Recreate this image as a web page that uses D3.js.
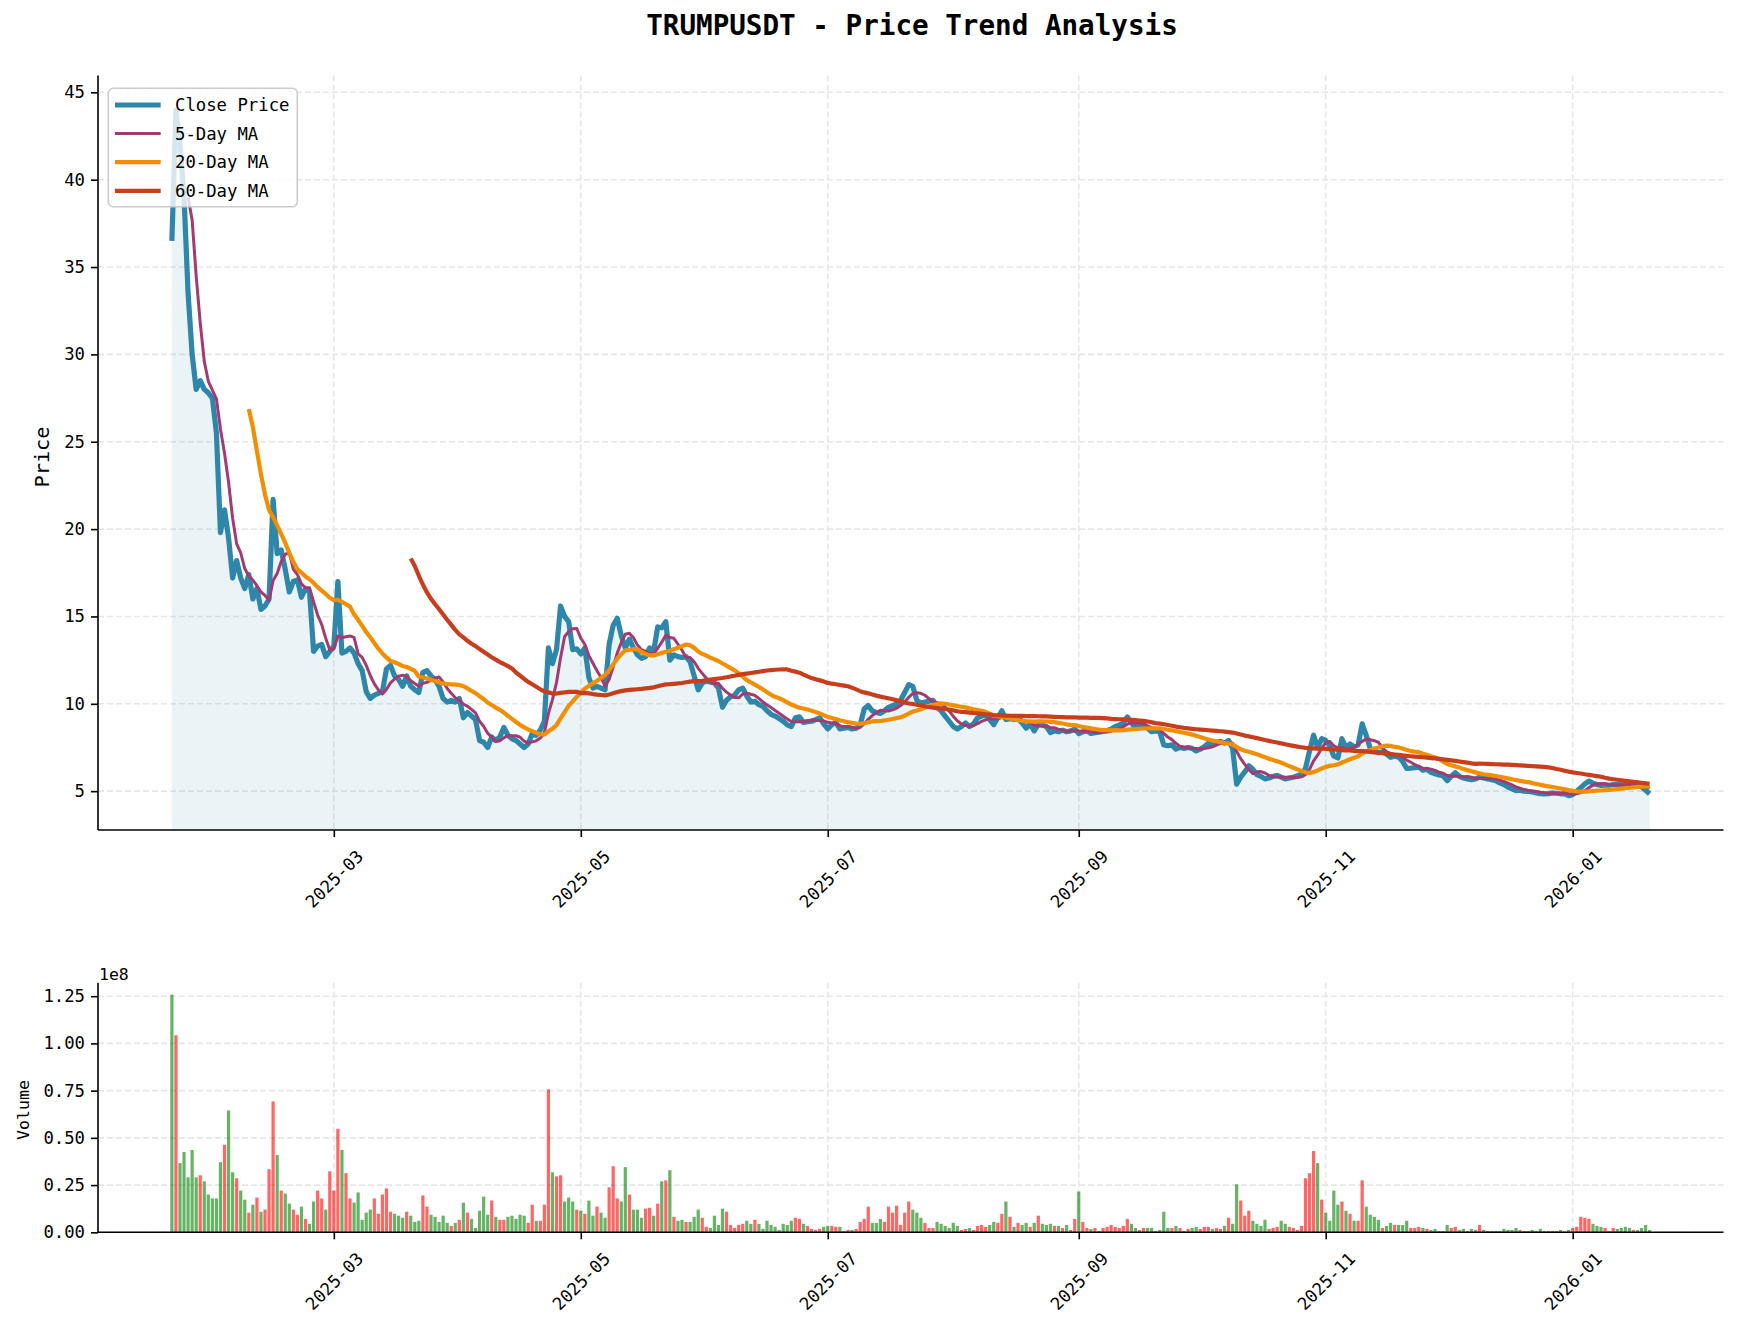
<!DOCTYPE html>
<html><head><meta charset="utf-8">
<script src="https://cdn.jsdelivr.net/npm/d3@7"></script>
<style>
body{margin:0;background:#fff}
svg{display:block}
text{font-family:"DejaVu Sans Mono",monospace;fill:#000}
</style>
</head><body>
<svg id="c" width="1740" height="1327"></svg>
<script>
// ---------------- data ----------------
const symbol = "TRUMPUSDT";
const startDate = "2025-01-20";
const closePrices = [
36.5,44.0,42.0,39.0,33.5,30.0,28.0,28.5,28.0,27.8,
27.5,25.5,19.8,21.1,19.5,17.2,18.2,17.2,16.6,17.4,
16.0,16.6,15.4,15.6,16.0,21.7,18.6,18.8,17.7,16.4,
17.0,17.1,16.1,16.6,16.4,13.0,13.3,13.4,12.7,13.0,
13.3,17.0,12.9,13.0,13.2,12.9,12.3,11.9,10.7,10.3,
10.5,10.6,10.7,12.0,12.2,11.6,11.4,11.0,11.6,11.0,
10.8,10.65,11.8,11.9,11.6,11.4,11.0,10.3,10.1,10.2,
10.1,10.3,9.2,9.5,9.3,9.1,7.9,7.8,7.5,8.1,
7.9,8.1,8.65,8.2,8.0,7.9,7.7,7.5,7.7,8.3,
8.2,8.5,9.0,13.2,12.3,13.1,15.6,15.0,14.7,13.1,
13.15,12.85,13.2,11.5,10.9,11.0,10.9,10.8,13.4,14.5,
14.9,13.9,13.2,13.7,13.2,12.8,12.6,12.7,13.2,13.0,
14.4,14.35,14.7,12.5,12.8,12.7,12.65,12.7,12.4,11.6,
10.8,11.2,11.3,11.25,11.2,10.9,9.8,10.2,10.4,10.5,
10.8,10.9,10.45,10.1,10.15,9.95,9.85,9.6,9.4,9.3,
9.15,9.0,8.8,8.7,9.2,9.25,8.94,8.98,9.0,9.1,
9.2,8.85,8.56,8.8,8.94,8.56,8.6,8.65,8.56,8.6,
8.8,9.7,9.9,9.6,9.5,9.45,9.6,9.8,9.9,10.0,
10.2,10.65,11.1,11.0,10.2,10.05,10.1,10.15,10.2,9.8,
9.6,9.3,9.0,8.7,8.56,8.7,8.9,8.7,8.85,9.2,
9.3,9.35,9.1,8.8,9.2,9.6,9.1,9.15,9.1,9.15,
8.9,8.6,8.85,8.45,8.85,8.8,8.7,8.35,8.45,8.4,
8.5,8.4,8.45,8.55,8.3,8.4,8.45,8.3,8.35,8.38,
8.42,8.47,8.55,8.7,8.78,8.9,9.25,8.9,8.65,8.74,
8.78,8.6,8.4,8.45,8.4,7.65,7.6,7.65,7.4,7.5,
7.45,7.5,7.45,7.3,7.4,7.55,7.75,7.7,7.8,7.85,
7.75,7.9,7.45,5.4,5.8,6.1,6.45,6.25,5.95,5.85,
5.7,5.75,5.85,5.9,5.8,5.7,5.75,5.8,5.88,5.98,
6.3,7.3,8.2,7.5,8.0,7.9,7.6,7.0,6.9,8.0,
7.5,7.7,7.55,7.65,8.85,8.2,7.45,7.3,7.2,7.25,
7.13,6.94,7.0,6.95,6.7,6.3,6.32,6.35,6.38,6.2,
6.25,6.08,6.0,5.93,5.88,5.6,5.85,6.05,5.85,5.75,
5.7,5.66,5.7,5.8,5.75,5.7,5.65,5.6,5.47,5.38,
5.23,5.13,5.03,5.06,5.0,4.98,4.95,4.9,4.86,4.84,
4.86,4.9,4.88,4.85,4.86,4.74,4.8,5.0,5.2,5.42,
5.58,5.45,5.38,5.33,5.36,5.34,5.38,5.37,5.36,5.35,
5.33,5.4,5.35,5.25,5.05,4.85
];
// daily volume, millions of units
const volumeMillions = [
125.8,104.3,36.6,42.5,29.1,43.6,29.1,30.2,27.0,20.0,
17.9,17.9,37.1,46.3,64.5,31.8,28.6,22.1,17.3,10.4,
14.6,18.4,10.9,12.0,33.4,69.3,40.9,22.1,20.5,15.2,
12.0,9.3,13.6,7.1,4.5,16.3,22.1,17.9,12.0,32.3,
22.1,54.8,43.6,31.3,17.9,15.7,21.1,6.6,10.4,12.0,
17.9,9.8,20.0,23.2,10.9,9.8,8.8,7.7,10.9,8.8,
5.5,6.1,19.5,13.6,9.3,8.2,5.5,8.8,5.0,3.4,
5.0,6.6,15.7,10.4,7.1,2.3,11.4,18.9,9.3,16.8,
8.2,6.6,6.6,8.2,8.8,7.1,9.3,8.8,5.0,14.6,
6.1,6.1,14.6,75.7,31.8,29.6,30.2,16.3,18.4,16.3,
12.0,11.4,9.8,16.8,8.8,13.6,10.4,7.7,23.8,35.0,
17.9,16.3,34.5,20.0,12.0,12.0,7.7,12.5,13.0,8.8,
15.2,27.0,27.5,32.9,8.2,6.1,6.6,5.5,5.5,8.2,
12.0,7.7,2.9,2.3,8.8,3.9,12.5,10.9,3.9,2.3,
3.9,4.5,6.1,4.5,6.6,4.5,1.8,6.1,3.9,2.9,
1.25,4.5,3.9,6.1,7.7,7.1,4.5,3.4,1.8,1.25,
1.8,2.9,3.4,3.4,2.9,2.9,0.7,1.25,1.25,1.8,
5.5,7.1,13.6,5.0,5.0,7.1,5.5,13.6,10.4,14.1,
3.9,10.4,16.3,12.0,10.4,7.7,5.0,2.3,2.3,5.5,
4.5,3.4,2.3,5.0,3.4,1.25,1.8,2.3,1.25,3.4,
3.9,2.9,3.9,5.5,5.0,9.8,16.3,8.2,2.9,5.0,
3.9,5.0,2.9,5.0,8.8,4.5,3.9,4.5,3.4,3.4,
2.3,3.9,1.25,7.1,21.6,5.5,2.3,1.8,2.3,0.7,
2.3,2.9,3.9,2.9,2.3,3.4,7.1,4.5,2.3,1.25,
2.3,2.3,2.3,0.7,1.25,10.9,2.3,2.3,3.4,2.3,
0.7,1.8,2.3,2.9,1.8,2.9,2.9,1.8,2.3,1.8,
3.4,7.7,4.5,25.4,16.8,8.8,11.4,6.1,4.5,3.4,
6.6,1.8,2.3,2.9,6.1,4.5,2.9,2.3,1.25,3.4,
28.6,31.3,43.0,36.6,17.3,10.4,6.1,22.1,14.6,16.3,
11.4,9.8,6.1,6.1,27.5,13.6,9.3,8.2,6.6,2.3,
3.4,5.0,3.9,3.9,3.9,6.1,2.3,2.3,2.9,2.3,
1.8,1.25,1.8,0.7,0.7,3.9,2.3,2.9,1.25,1.8,
0.7,1.8,1.25,3.9,1.25,0.7,0.7,0.7,0.7,1.8,
1.25,1.25,2.3,1.25,0.7,0.7,1.25,0.7,1.8,0.7,
0.7,0.7,0.7,1.25,0.4,1.25,2.3,2.9,8.2,7.7,
7.1,4.5,3.4,2.9,2.3,0.7,2.3,1.8,2.3,2.9,
2.3,1.25,1.25,2.3,3.9,1.25
];
const xTickLabels = ["2025-03","2025-05","2025-07","2025-09","2025-11","2026-01"];
const priceTicks = [5,10,15,20,25,30,35,40,45];
const volumeTicks = [0,0.25,0.5,0.75,1.0,1.25];   // in units of 1e8
const maWindows = [5,20,60];
const seriesNames = ["Close Price","5-Day MA","20-Day MA","60-Day MA"];
const seriesColors = ["#2E86AB","#A23B72","#F18F01","#C73E1D"];
const seriesWidths = [5.2,3.0,4.2,4.2];

// ---------------- layout ----------------
const svg = d3.select("#c");
const L = 98, R = 1723.5;
const pTop = 75.5, pBot = 830;
const vTop = 982.8, vBot = 1232.3;
const gridColor = "#e6e6e6";
const FS = 17.3;

const parse = d3.utcParse("%Y-%m-%d");
const t0 = parse(startDate);
const dates = closePrices.map((_, i) => d3.utcDay.offset(t0, i));
const span = dates[dates.length - 1] - dates[0];
const x = d3.scaleUtc()
  .domain([new Date(+dates[0] - 0.05 * span), new Date(+dates[dates.length - 1] + 0.05 * span)])
  .range([L, R]);

function rolling(arr, n) {
  return arr.map((_, i) => i < n - 1 ? null : d3.mean(arr.slice(i - n + 1, i + 1)));
}
const mas = maWindows.map(n => rolling(closePrices, n));
const allP = closePrices.concat(...mas).filter(v => v != null);
const pmin = d3.min(allP), pmax = d3.max(allP), pr = pmax - pmin;
const y = d3.scaleLinear().domain([pmin - 0.05 * pr, pmax + 0.05 * pr]).range([pBot, pTop]);

const vols = volumeMillions.map(v => v / 100); // 1e8 units
const yv = d3.scaleLinear().domain([0, d3.max(vols) * 1.05]).range([vBot, vTop]);

const xTickDates = xTickLabels.map(s => d3.utcParse("%Y-%m")(s));

// clip paths
const defs = svg.append("defs");
defs.append("clipPath").attr("id", "clipP").append("rect")
  .attr("x", L).attr("y", pTop).attr("width", R - L).attr("height", pBot - pTop);
defs.append("clipPath").attr("id", "clipV").append("rect")
  .attr("x", L).attr("y", vTop).attr("width", R - L).attr("height", vBot - vTop);

// ---------------- grids ----------------
function grid(g, top, bot, yTicks, ys) {
  g.selectAll("line.vx").data(xTickDates).join("line")
    .attr("x1", d => x(d)).attr("x2", d => x(d)).attr("y1", top).attr("y2", bot)
    .attr("stroke", gridColor).attr("stroke-width", 1.6).attr("stroke-dasharray", "6,3");
  g.selectAll("line.hy").data(yTicks).join("line").attr("class","hy")
    .attr("x1", L).attr("x2", R).attr("y1", d => ys(d)).attr("y2", d => ys(d))
    .attr("stroke", gridColor).attr("stroke-width", 1.6).attr("stroke-dasharray", "6,3");
}
grid(svg.append("g"), pTop, pBot, priceTicks, y);
grid(svg.append("g"), vTop, vBot, volumeTicks, yv);

// ---------------- price panel ----------------
const gp = svg.append("g").attr("clip-path", "url(#clipP)");
gp.append("path").datum(closePrices)
  .attr("d", d3.area().x((d, i) => x(dates[i])).y0(pBot).y1(d => y(d)))
  .attr("fill", seriesColors[0]).attr("fill-opacity", 0.1);
const lineGen = d3.line().defined(d => d != null).x((d, i) => x(dates[i])).y(d => y(d));
[closePrices, ...mas].forEach((s, k) => {
  gp.append("path").datum(s).attr("d", lineGen)
    .attr("fill", "none").attr("stroke", seriesColors[k])
    .attr("stroke-width", seriesWidths[k]).attr("stroke-linejoin", "round").attr("stroke-linecap", "butt");
});

// ---------------- volume panel ----------------
const gv = svg.append("g").attr("clip-path", "url(#clipV)");
const bw = x(d3.utcHour.offset(dates[0], 0.8 * 24)) - x(dates[0]);
gv.selectAll("rect").data(vols).join("rect")
  .attr("x", (d, i) => x(dates[i]) - bw / 2)
  .attr("width", bw)
  .attr("y", d => yv(d))
  .attr("height", d => vBot - yv(d))
  .attr("fill", (d, i) => (i > 0 && closePrices[i] > closePrices[i - 1]) ? "red" : "green")
  .attr("fill-opacity", 0.6);

// ---------------- axes ----------------
function styleAxis(g) {
  g.select(".domain").remove();
  g.selectAll(".tick line").attr("stroke", "#000").attr("stroke-width", 1.6);
  g.selectAll(".tick text").attr("font-family", "DejaVu Sans Mono").attr("font-size", FS).attr("fill", "#000");
}
const fmtX = d3.utcFormat("%Y-%m");
function xAxis(yPos) {
  const g = svg.append("g").attr("transform", `translate(0,${yPos})`)
    .call(d3.axisBottom(x).tickValues(xTickDates).tickFormat(fmtX).tickSize(7));
  styleAxis(g);
  g.selectAll(".tick text")
    .attr("y", 0).attr("dy", "0.35em").attr("text-anchor", "middle")
    .attr("transform", "translate(0,49) rotate(-45)");
}
xAxis(pBot);
xAxis(vBot);

const gyp = svg.append("g").attr("transform", `translate(${L},0)`)
  .call(d3.axisLeft(y).tickValues(priceTicks).tickFormat(d3.format("d")).tickSize(7).tickPadding(6));
styleAxis(gyp);
const gyv = svg.append("g").attr("transform", `translate(${L},0)`)
  .call(d3.axisLeft(yv).tickValues(volumeTicks).tickFormat(d3.format(".2f")).tickSize(7).tickPadding(6));
styleAxis(gyv);

// spines
[[pTop, pBot], [vTop, vBot]].forEach(([t, b]) => {
  svg.append("line").attr("x1", L).attr("x2", L).attr("y1", t).attr("y2", b).attr("stroke", "#000").attr("stroke-width", 1.6);
  svg.append("line").attr("x1", L).attr("x2", R).attr("y1", b).attr("y2", b).attr("stroke", "#000").attr("stroke-width", 1.6);
});

// offset text
svg.append("text").attr("x", 99).attr("y", 980).attr("font-family", "Liberation Sans")
  .attr("font-size", 16.5).text("1e8");

// axis labels
svg.append("text").attr("transform", "translate(42,457) rotate(-90)")
  .attr("text-anchor", "middle").attr("dominant-baseline", "central")
  .attr("font-size", 20.3).text("Price");
svg.append("text").attr("transform", "translate(23.5,1110) rotate(-90)")
  .attr("text-anchor", "middle").attr("dominant-baseline", "central")
  .attr("font-size", 16.6).text("Volume");

// title
svg.append("text").attr("x", 912).attr("y", 25).attr("text-anchor", "middle")
  .attr("dominant-baseline", "central").attr("font-weight", "bold").attr("font-size", 27.6)
  .text(`${symbol} - Price Trend Analysis`);

// legend
const lg = svg.append("g");
lg.append("rect").attr("x", 108.3).attr("y", 88.3).attr("width", 189).attr("height", 118.4)
  .attr("rx", 5).attr("fill", "#fff").attr("fill-opacity", 0.8).attr("stroke", "#cccccc").attr("stroke-width", 1.6);
seriesNames.forEach((name, k) => {
  const yy = 105 + k * 28.6;
  lg.append("line").attr("x1", 115).attr("x2", 160.7).attr("y1", yy).attr("y2", yy)
    .attr("stroke", seriesColors[k]).attr("stroke-width", seriesWidths[k]);
  lg.append("text").attr("x", 175).attr("y", yy).attr("dominant-baseline", "central")
    .attr("font-size", FS).text(name);
});
</script>
</body></html>
